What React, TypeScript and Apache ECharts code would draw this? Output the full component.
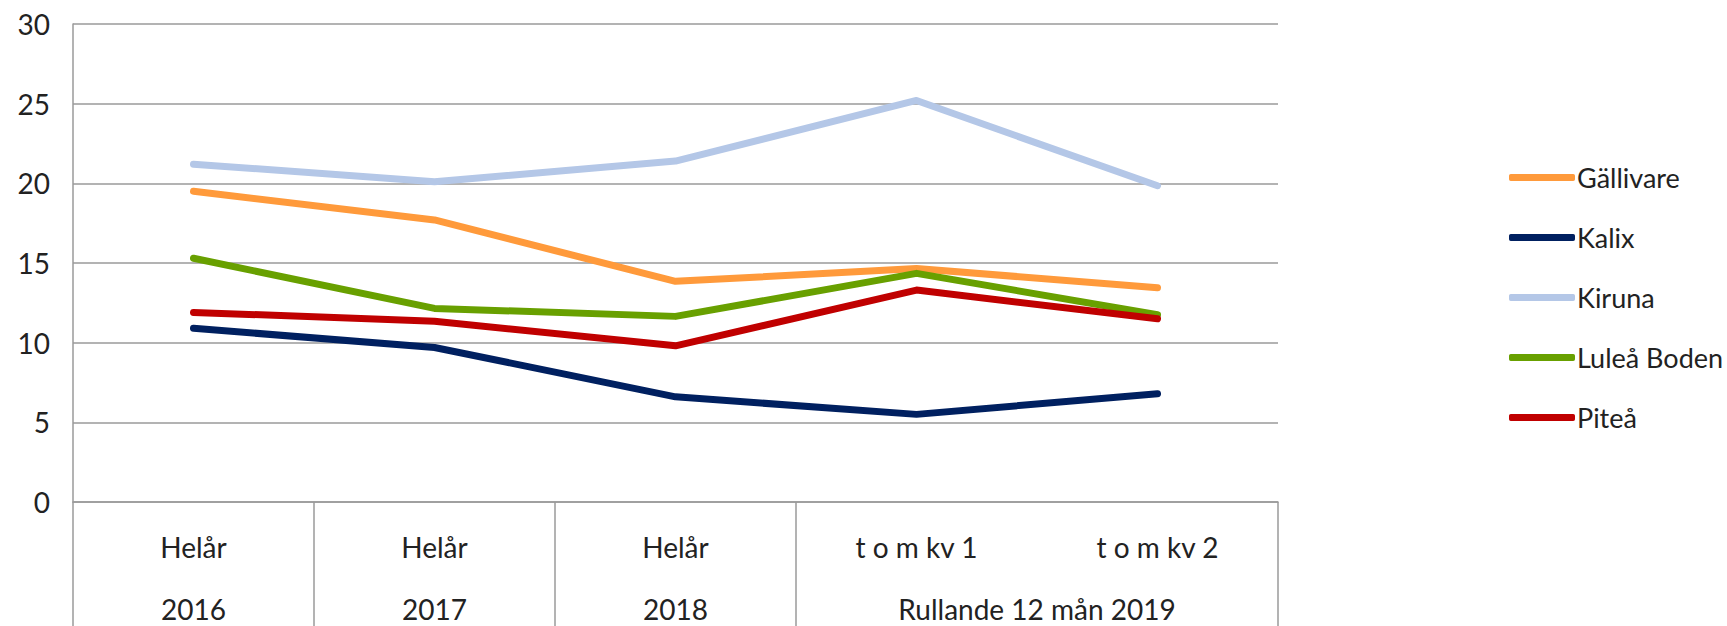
import React, { useEffect, useRef } from "react";
import * as echarts from "echarts";

const categories = ["Helår", "Helår", "Helår", "t o m kv 1", "t o m kv 2"];
// second row of the category axis, placed on half-category positions (0..10)
const groupLabels = ["", "2016", "", "2017", "", "2018", "", "", "Rullande 12 mån 2019", "", ""];
const groupDividers = [0, 2, 4, 6, 10];

const seriesNames = ["Gällivare", "Kalix", "Kiruna", "Luleå Boden", "Piteå"];
const gallivare = [19.5, 17.7, 13.85, 14.65, 13.45];
const kalix = [10.9, 9.7, 6.6, 5.5, 6.8];
const kiruna = [21.2, 20.1, 21.4, 25.2, 19.85];
const luleaBoden = [15.3, 12.15, 11.65, 14.35, 11.75];
const pitea = [11.9, 11.35, 9.8, 13.3, 11.5];
const colors = ["#FF9A3B", "#002060", "#B4C7E7", "#68A000", "#C00000"];

const yTicks = { min: 0, max: 30, interval: 5 };

const FONT = "Lato";
const TEXT = "#222222";
const GRID = "#9a9a9a";

export default function App() {
  const ref = useRef<HTMLDivElement>(null);

  useEffect(() => {
    if (!ref.current) return;
    const chart = echarts.init(ref.current, undefined, { renderer: "svg" });
    const values = [gallivare, kalix, kiruna, luleaBoden, pitea];
    chart.setOption({
      animation: false,
      backgroundColor: "#ffffff",
      textStyle: { fontFamily: FONT },
      grid: { left: 73, right: 449, top: 24, bottom: 124, containLabel: false },
      legend: {
        orient: "vertical",
        left: 1504,
        top: 159,
        itemWidth: 66,
        itemHeight: 7,
        itemGap: 33,
        icon: "roundRect",
        textStyle: { fontFamily: FONT, fontSize: 27, color: TEXT, padding: [0, 0, 0, -3] },
        data: seriesNames,
      },
      xAxis: [
        {
          type: "category",
          data: categories,
          boundaryGap: true,
          position: "bottom",
          axisLine: { show: true, lineStyle: { color: GRID, width: 1.5 } },
          axisTick: { show: false },
          axisLabel: { margin: 31, fontSize: 28, color: TEXT, fontFamily: FONT, interval: 0 },
          splitLine: { show: false },
        },
        {
          type: "category",
          data: groupLabels,
          boundaryGap: false,
          position: "bottom",
          axisLine: { show: false },
          axisTick: {
            show: true,
            length: 124,
            interval: (index: number) => groupDividers.includes(index),
            lineStyle: { color: GRID, width: 1.5 },
          },
          axisLabel: { margin: 93, fontSize: 28, color: TEXT, fontFamily: FONT, interval: 0 },
          splitLine: { show: false },
        },
      ],
      yAxis: {
        type: "value",
        min: yTicks.min,
        max: yTicks.max,
        interval: yTicks.interval,
        axisLine: { show: true, lineStyle: { color: GRID, width: 1.5 } },
        axisTick: { show: false },
        axisLabel: { margin: 23, fontSize: 28, color: TEXT, fontFamily: FONT },
        splitLine: { show: true, lineStyle: { color: GRID, width: 1.5 } },
      },
      series: seriesNames.map((name, i) => ({
        name,
        type: "line",
        xAxisIndex: 0,
        data: values[i],
        showSymbol: false,
        symbol: "none",
        color: colors[i],
        lineStyle: { width: 7, color: colors[i], cap: "round", join: "round" },
        emphasis: { disabled: true },
      })),
    });
    return () => chart.dispose();
  }, []);

  return (
    <div
      ref={ref}
      style={{ position: "fixed", left: 0, top: 0, width: 1727, height: 626, background: "#fff" }}
    />
  );
}
